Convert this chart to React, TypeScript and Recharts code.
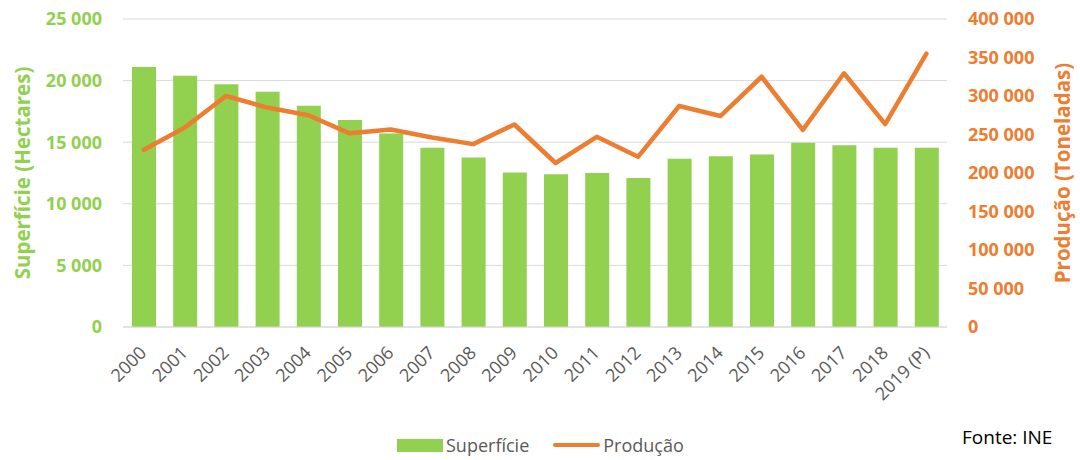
import React from "react"
import {
  ComposedChart,
  Bar,
  Line,
  XAxis,
  YAxis,
  CartesianGrid,
  Legend,
} from "recharts"

const years = [
  "2000", "2001", "2002", "2003", "2004", "2005", "2006", "2007", "2008", "2009",
  "2010", "2011", "2012", "2013", "2014", "2015", "2016", "2017", "2018", "2019 (P)",
]

// Superfície (hectares)
const superficie = [
  21100, 20400, 19700, 19100, 17950, 16800, 15700, 14550, 13750, 12550,
  12400, 12500, 12100, 13650, 13850, 14000, 14950, 14750, 14550, 14550,
]

// Produção (toneladas)
const producao = [
  230000, 259000, 300000, 285000, 275000, 251500, 256500, 246000, 237500, 263000,
  213000, 247000, 221000, 287000, 274000, 325000, 256000, 329500, 263500, 355000,
]

const leftTicks = [0, 5000, 10000, 15000, 20000, 25000]
const rightTicks = [0, 50000, 100000, 150000, 200000, 250000, 300000, 350000, 400000]

const GREEN = "#92d050"
const ORANGE = "#ed7d31"
const GRAY = "#595959"
const FONT = "'Open Sans', 'Liberation Sans', sans-serif"

const data = years.map((year, i) => ({
  year,
  superficie: superficie[i],
  producao: producao[i],
}))

const fmt = (v: number) => String(v).replace(/\B(?=(\d{3})+(?!\d))/g, " ")

const XTick = ({ x, y, payload }: any) => {
  const tx = x + 4
  const ty = y + 27
  return (
    <text
      x={tx}
      y={ty}
      textAnchor="end"
      transform={`rotate(-45 ${tx} ${ty})`}
      fill={GRAY}
      fontSize={18}
      fontFamily={FONT}
    >
      {payload.value}
    </text>
  )
}

// vertical axis title, centred on the axis
const axisTitle = (text: string, color: string, dx: number) => ({ viewBox }: any) => {
  const cx = viewBox.x + dx
  const cy = viewBox.y + viewBox.height / 2
  return (
    <text
      x={cx}
      y={cy}
      textAnchor="middle"
      dominantBaseline="central"
      transform={`rotate(-90 ${cx} ${cy})`}
      fill={color}
      fontSize={20.5}
      fontWeight={700}
      fontFamily={FONT}
    >
      {text}
    </text>
  )
}

const LegendContent = () => (
  <div
    style={{
      display: "flex",
      alignItems: "center",
      paddingLeft: 397,
      height: 30,
      fontFamily: FONT,
      fontSize: 18,
      color: GRAY,
    }}
  >
    <span style={{ width: 46, height: 13, background: GREEN, display: "inline-block" }} />
    <span style={{ marginLeft: 3 }}>Superfície</span>
    <span
      style={{
        width: 47,
        height: 4,
        borderRadius: 2,
        background: ORANGE,
        display: "inline-block",
        marginLeft: 24,
      }}
    />
    <span style={{ marginLeft: 3 }}>Produção</span>
  </div>
)

export default function App() {
  return (
    <div style={{ position: "absolute", left: 0, top: 0, width: 1080, height: 460, background: "#fff" }}>
      <ComposedChart
        width={1080}
        height={460}
        data={data}
        margin={{ top: 19, right: 0, left: 0, bottom: 10 }}
      >
        <CartesianGrid vertical={false} stroke="#d9d9d9" yAxisId="left" />
        <XAxis
          dataKey="year"
          interval={0}
          height={93}
          tickLine={false}
          tickSize={0}
          tickMargin={0}
          axisLine={{ stroke: "#d9d9d9" }}
          tick={<XTick />}
        />
        <YAxis
          yAxisId="left"
          domain={[0, 25000]}
          ticks={leftTicks}
          width={123}
          axisLine={false}
          tickLine={false}
          tickMargin={15}
          tickFormatter={fmt}
          tick={{ fill: GREEN, fontSize: 18, fontWeight: 700, fontFamily: FONT }}
          label={{ content: axisTitle("Superfície (Hectares)", GREEN, 22) }}
        />
        <YAxis
          yAxisId="right"
          orientation="right"
          domain={[0, 400000]}
          ticks={rightTicks}
          width={133}
          axisLine={false}
          tickLine={false}
          tickMargin={15}
          tickFormatter={fmt}
          tick={{ fill: ORANGE, fontSize: 18, fontWeight: 700, fontFamily: FONT }}
          label={{ content: axisTitle("Produção (Toneladas)", ORANGE, 115) }}
        />
        <Legend
          verticalAlign="bottom"
          height={30}
          content={<LegendContent />}
          wrapperStyle={{ left: 0, width: 1080, top: 430, height: 30 }}
        />
        <Bar
          yAxisId="left"
          dataKey="superficie"
          name="Superfície"
          fill={GREEN}
          barSize={24}
          isAnimationActive={false}
        />
        <Line
          yAxisId="right"
          dataKey="producao"
          name="Produção"
          type="linear"
          stroke={ORANGE}
          strokeWidth={4.5}
          strokeLinecap="round"
          strokeLinejoin="round"
          dot={false}
          activeDot={false}
          isAnimationActive={false}
        />
      </ComposedChart>
      <div
        style={{
          position: "absolute",
          left: 962,
          top: 424,
          fontFamily: FONT,
          fontSize: 19,
          color: "#000",
        }}
      >
        Fonte: INE
      </div>
    </div>
  )
}
